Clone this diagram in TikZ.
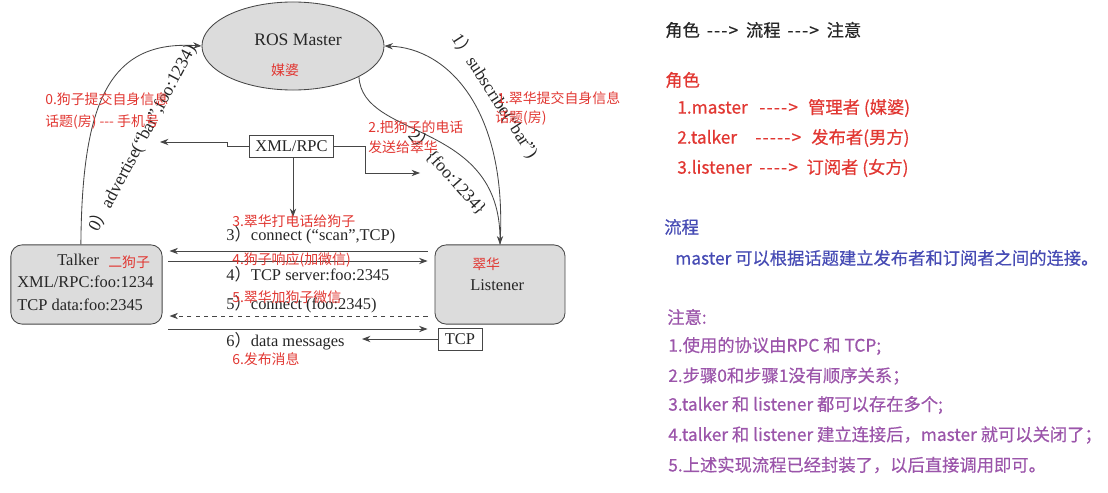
\documentclass[tikz,border=0pt]{standalone}
\usepackage{fontspec}
\usepackage{tikz}
\usetikzlibrary{arrows.meta,shapes.geometric}
\setmainfont{Liberation Serif}
\newfontfamily\cjk{Noto Sans CJK SC}[Ligatures=ResetAll]
\newfontfamily\cjkpanel{Noto Sans CJK SC}[Ligatures=ResetAll,FakeBold=0.5]
\definecolor{boxgray}{RGB}{220,220,220}
\definecolor{notered}{RGB}{225,55,50}
\definecolor{flowblue}{RGB}{70,75,180}
\definecolor{notepurple}{RGB}{155,85,170}
\definecolor{linegray}{RGB}{70,70,70}
\newcommand\fp{{\cjk ）}}
\newcommand\darrow[1]{\foreach \i in {1,...,#1}{-\kern0.9pt}>}
\tikzset{
  serif/.style={font=\fontsize{11.7}{13}\selectfont, text=black!85, inner sep=0pt},
  arclabel/.style={serif, font=\fontsize{12.6}{14}\selectfont},
  redtag/.style={font=\cjk\fontsize{9.9}{11}\selectfont, text=notered, inner sep=0pt, anchor=west},
  panel/.style={font=\cjkpanel\fontsize{12.3}{14}\selectfont, inner sep=0pt, anchor=west},
  gbox/.style={draw=linegray, fill=boxgray, rounded corners=0.28cm, line width=0.6pt},
  wbox/.style={draw=linegray, fill=white, line width=0.6pt},
  flow/.style={draw=linegray, line width=0.6pt, -{Stealth[length=6pt,width=4.5pt]}}
}

\begin{document}
\begin{tikzpicture}[x=0.025cm,y=-0.025cm]
\useasboundingbox (0,0) rectangle (1108,492);
% the three roles
\node[ellipse, draw=linegray, fill=boxgray, line width=0.6pt, minimum width=4.55cm, minimum height=2.2cm] (master) at (293,46) {};
\node[serif, font=\fontsize{12.5}{14}\selectfont] (mastername) at (298,40) {ROS Master};
\node[redtag, anchor=center] (masternick) at (285,70) {媒婆};

\node[gbox, minimum width=3.78cm, minimum height=1.98cm] (talker) at (86.5,284.5) {};
\node[serif, anchor=west] (talkername) at (57,260) {Talker};
\node[redtag] (talkernick) at (108,262) {二狗子};
\node[serif, anchor=west] (talkerrpc) at (17,282) {XML/RPC:foo:1234};
\node[serif, anchor=west] (talkertcp) at (17,305) {TCP data:foo:2345};

\node[gbox, minimum width=3.25cm, minimum height=1.98cm] (listener) at (500,284.5) {};
\node[redtag] (listenernick) at (472,264) {翠华};
\node[serif, anchor=west] (listenername) at (470,285) {Listener};

\node[wbox, serif, minimum width=2.08cm, minimum height=0.55cm] (xmlrpc) at (291.5,146) {XML/RPC};
\node[wbox, serif, minimum width=1.1cm, minimum height=0.55cm] (tcp) at (460,339) {TCP};

% free arrow ends and message rows
\coordinate (advtip) at (160,142);
\coordinate (lookuptip) at (420,173);
\coordinate (calltip) at (293,217);
\coordinate (datatip) at (362,339);
\coordinate (row3) at (0,251);
\coordinate (row4) at (0,261);
\coordinate (row5) at (0,316);
\coordinate (row6) at (0,329);

\draw[flow] (xmlrpc.west) -- ++(-22,0) |- (advtip);
\draw[flow] (xmlrpc.east) -- ++(32,0) |- (lookuptip);
\draw[flow] (xmlrpc.south -| calltip) -- (calltip);
\draw[flow] (tcp.west) -- (tcp.west -| datatip);

\draw[flow, shorten <=5pt, shorten >=5pt] (listener.west |- row3) -- (talker.east |- row3);
\draw[flow, shorten <=4pt, shorten >=5pt] (talker.east |- row4) -- (listener.west |- row4);
\draw[flow, dashed, shorten <=5pt, shorten >=5pt] (listener.west |- row5) -- (talker.east |- row5);
\draw[flow, shorten <=4pt, shorten >=5pt] (talker.east |- row6) -- (listener.west |- row6);

% curved calls to the master
\draw[flow] ([xshift=-4pt]talker.north) .. controls (82,100) and (110,40) .. (master.west);
\draw[flow] (listener.north) .. controls (508,110) and (448,48) .. (master.east);
\draw[flow] (master.-25) .. controls (362,140) and (500,120) .. (listener.north);

\node[arclabel, rotate=62] (advlabel) at (142,138) {0\fp advertise(“bar”,foo:1234)};
\node[arclabel, rotate=-57] (sublabel) at (495,96) {1\fp subscribe(“bar”)};
\node[arclabel, rotate=-48] (lookuplabel) at (448,172) {2\fp\{foo:1234\}};

\node[serif, anchor=west] (msg3) at (226,235) {3\fp connect (“scan”,TCP)};
\node[serif, anchor=west] (msg4) at (226,274) {4\fp TCP server:foo:2345};
\node[serif, anchor=west] (msg5) at (226,304) {5\fp connect (foo:2345)};
\node[serif, anchor=west] (msg6) at (226,341) {6\fp data messages};

% red notes
\node[redtag] (note0a) at (45,99) {0.狗子提交自身信息};
\node[redtag] (note0b) at (45,122) {话题(房) --- 手机号};
\node[redtag] (note1a) at (497,98) {1.翠华提交自身信息};
\node[redtag] (note1b) at (495,118) {话题(房)};
\node[redtag] (note2a) at (368,127) {2.把狗子的电话};
\node[redtag] (note2b) at (368,147) {发送给翠华};
\node[redtag] (note3) at (232,221) {3.翠华打电话给狗子};
\node[redtag] (note4) at (232,260) {4.狗子响应(加微信)};
\node[redtag] (note5) at (232,297) {5.翠华加狗子微信};
\node[redtag] (note6) at (232,359) {6.发布消息};

% right panel
\node[panel, text=black!85] (hdr) at (665,30) {角色\hspace{0.4em}\darrow{3}\hspace{0.45em}流程\hspace{0.4em}\darrow{3}\hspace{0.45em}注意};
\node[panel, text=notered] (roles) at (665,80) {角色};
\node[panel, text=notered] (role1) at (677,108) {\makebox[2.05cm][l]{1.master}\makebox[1.22cm][l]{\darrow{4}}管理者 (媒婆)};
\node[panel, text=notered] (role2) at (677,138) {\makebox[1.95cm][l]{2.talker}\makebox[1.4cm][l]{\darrow{5}}发布者(男方)};
\node[panel, text=notered] (role3) at (677,168) {\makebox[2.05cm][l]{3.listener}\makebox[1.18cm][l]{\darrow{4}}订阅者 (女方)};
\node[panel, text=flowblue] (flowhd) at (664,227) {流程};
\node[panel, text=flowblue] (flowtxt) at (675,258) {master 可以根据话题建立发布者和订阅者之间的连接。};
\node[panel, text=notepurple] (notehd) at (667,317) {注意:};
\node[panel, text=notepurple] (note1) at (668,346) {1.使用的协议由RPC 和 TCP;};
\node[panel, text=notepurple] (note2) at (668,376) {2.步骤0和步骤1没有顺序关系；};
\node[panel, text=notepurple] (note3) at (668,405) {3.talker 和 listener 都可以存在多个;};
\node[panel, text=notepurple] (note4) at (668,435) {4.talker 和 listener 建立连接后，master 就可以关闭了；};
\node[panel, text=notepurple] (note5) at (668,465) {5.上述实现流程已经封装了，以后直接调用即可。};
\end{tikzpicture}
\end{document}
